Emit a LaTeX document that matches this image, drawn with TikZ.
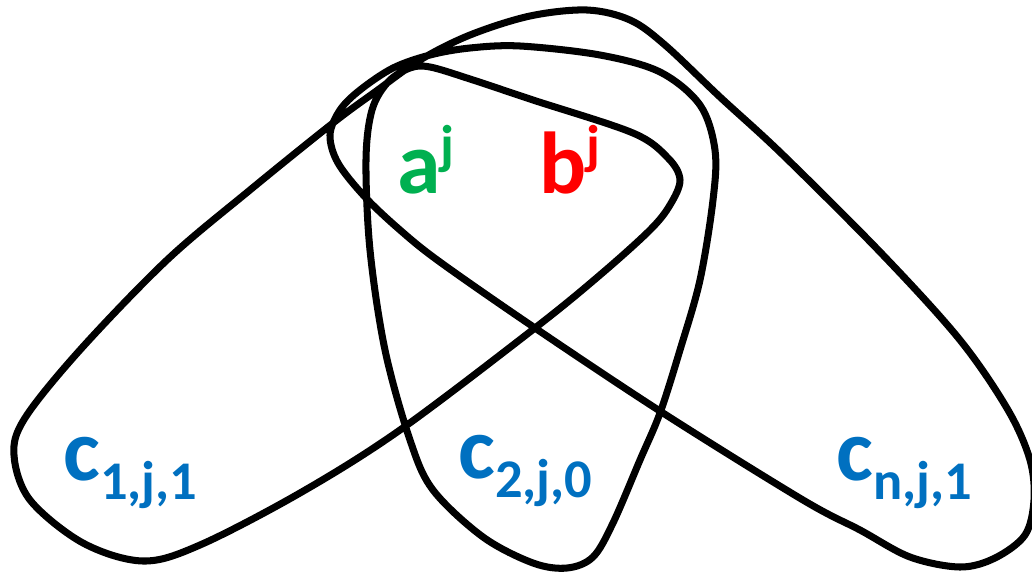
\documentclass[tikz,border=0pt]{standalone}
\usepackage{fontspec}
\setmainfont{Carlito}
\usepackage{tikz}
\usetikzlibrary{positioning}
\definecolor{hgblue}{RGB}{0,112,192}
\definecolor{hggreen}{RGB}{0,176,80}
\definecolor{hgred}{RGB}{255,0,0}
\newcommand{\lowsub}[2]{#1\raisebox{-11.3pt}{\fontsize{31}{31}\selectfont #2}}
\newcommand{\highsup}[2]{#1\raisebox{17pt}{\fontsize{31}{31}\selectfont #2}}

\begin{document}
\begin{tikzpicture}[x=0.02cm,y=-0.02cm,
        hedge/.style={line width=4pt,line join=round},
        lbl/.style={anchor=base west,inner sep=0pt,font=\fontsize{50}{50}\selectfont\bfseries}]
        \useasboundingbox (0,0) rectangle (1032,572);
        \draw[hedge] plot[smooth cycle,tension=0.55] coordinates {
          (143,561) (83,543) (30,500) (14,455) (25,418) (80,350) (167,260) (250,190)
          (333,123) (375,92) (420,60) (470,35) (530,16) (587,10) (630,20) (665,45)
          (720,97) (783,155) (883,255) (960,340) (1008,410) (1030,460) (1034,500)
          (1025,535) (995,558) (960,567) (910,557) (860,530) (803,500) (663,413)
          (535,328) (440,262) (400,230) (365,197) (338,163) (330,135) (340,110)
          (360,90) (393,68) (430,55) (470,48) (520,46) (600,55) (660,72) (700,105)
          (715,150) (713,200) (700,280) (680,350) (660,413) (640,460) (613,523)
          (593,557) (567,568) (533,563) (483,537) (433,490) (410,440) (385,350)
          (370,250) (366,160) (372,110) (388,82) (410,68) (430,67) (470,79)
          (533,100) (633,133) (668,158) (680,180) (670,205) (650,230) (600,275)
          (535,328) (400,430) (300,493) (200,545)};
        \node[lbl,text=hggreen] (a) at (397,193) {\highsup{a}{j}};
        \node[lbl,text=hgred] (b) at (539,193) {\highsup{b}{j}};
        \node[lbl,text=hgblue] (c1) at (63,480) {\lowsub{c}{1,j,1}};
        \node[lbl,text=hgblue] (c2) at (458,478) {\lowsub{c}{2,j,0}};
        \node[lbl,text=hgblue] (cn) at (836,480) {\lowsub{c}{n,j,1}};
      \end{tikzpicture}
\end{document}
